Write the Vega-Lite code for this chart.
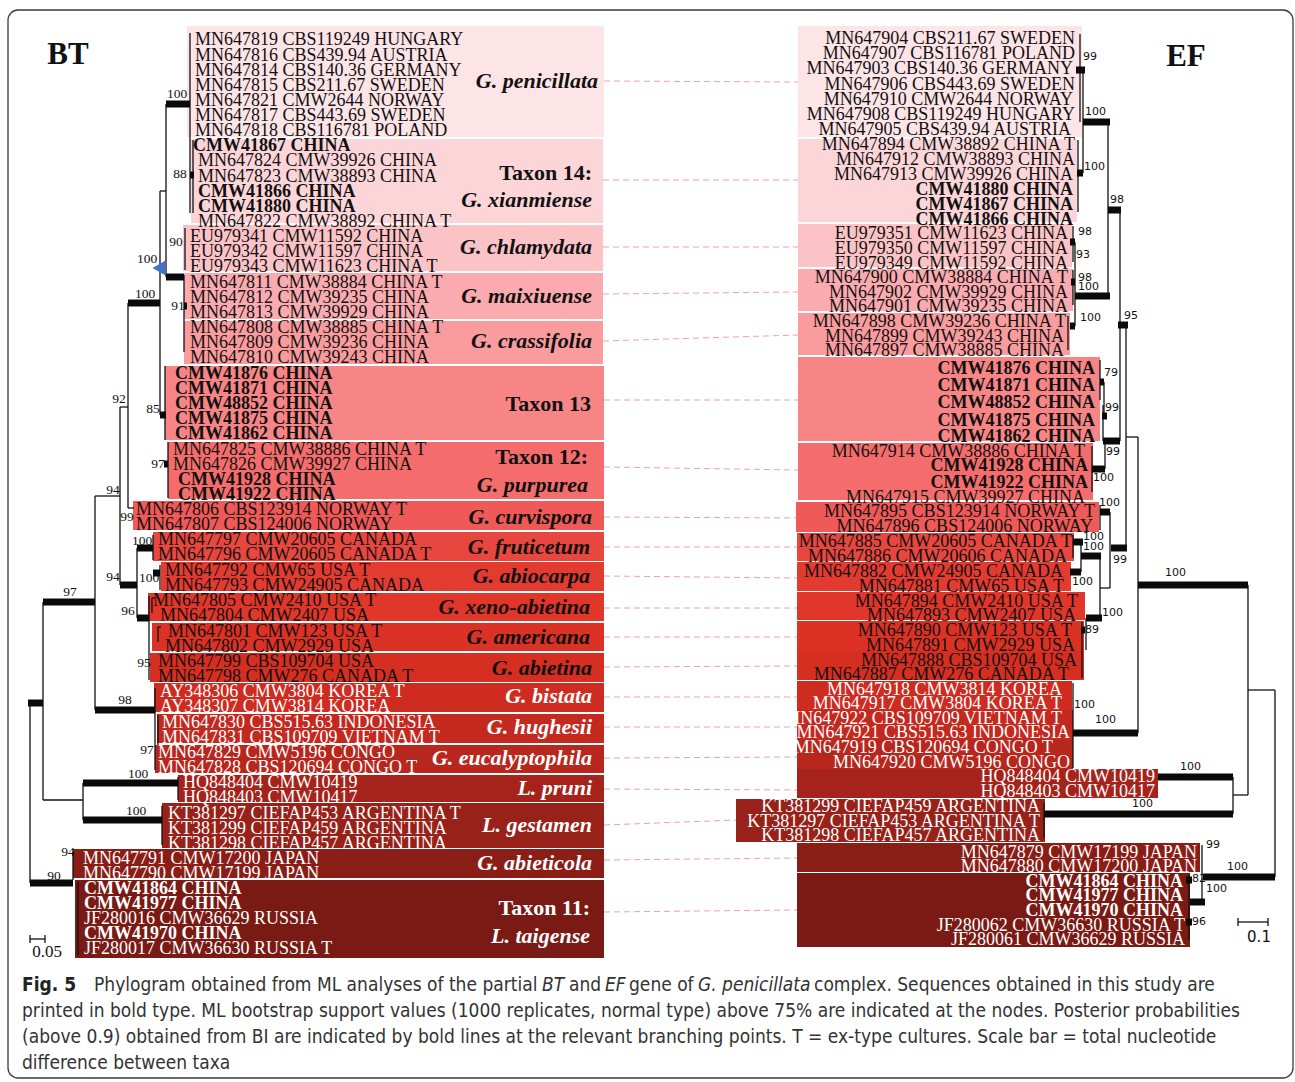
{
 "$schema": "https://vega.github.io/schema/vega-lite/v6.json",
 "width": 1295, "height": 1082,
 "autosize": {"type": "fit", "contains": "padding"},
 "padding": 0,
 "background": "white",
 "config": {"view": {"stroke": null}},
 "datasets": {
  "frame": [{"x": 8, "x2": 1293, "y": 10, "y2": 1078}],
  "boxes": [
   {"side":"L","group":"penicillata","x":187,"x2":604,"y":26,"y2":137},
   {"side":"L","group":"taxon14","x":191,"x2":603,"y":139,"y2":223},
   {"side":"L","group":"chlamydata","x":183,"x2":603,"y":225,"y2":271},
   {"side":"L","group":"maixiuense","x":184,"x2":603,"y":273,"y2":319},
   {"side":"L","group":"crassifolia","x":184,"x2":603,"y":321,"y2":364},
   {"side":"L","group":"taxon13","x":165,"x2":604,"y":366,"y2":440},
   {"side":"L","group":"taxon12","x":168,"x2":604,"y":442,"y2":499},
   {"side":"L","group":"curvispora","x":133,"x2":604,"y":501,"y2":530},
   {"side":"L","group":"fruticetum","x":153,"x2":604,"y":532,"y2":561},
   {"side":"L","group":"abiocarpa","x":161,"x2":604,"y":562,"y2":591},
   {"side":"L","group":"xeno","x":148,"x2":604,"y":593,"y2":621},
   {"side":"L","group":"americana","x":152,"x2":604,"y":623,"y2":651},
   {"side":"L","group":"abietina","x":150,"x2":604,"y":653,"y2":682},
   {"side":"L","group":"bistata","x":154,"x2":604,"y":683,"y2":712},
   {"side":"L","group":"hughesii","x":157,"x2":604,"y":714,"y2":743},
   {"side":"L","group":"eucalyptophila","x":155,"x2":604,"y":745,"y2":773},
   {"side":"L","group":"pruni","x":178,"x2":604,"y":775,"y2":802},
   {"side":"L","group":"gestamen","x":162,"x2":604,"y":803,"y2":848},
   {"side":"L","group":"abieticola","x":73,"x2":604,"y":849,"y2":878},
   {"side":"L","group":"taxon11","x":75,"x2":604,"y":880,"y2":958},
   {"side":"R","group":"penicillata","x":798,"x2":1082,"y":26,"y2":137},
   {"side":"R","group":"taxon14","x":798,"x2":1077,"y":139,"y2":222},
   {"side":"R","group":"chlamydata","x":798,"x2":1072,"y":224,"y2":267},
   {"side":"R","group":"maixiuense","x":798,"x2":1073,"y":269,"y2":311},
   {"side":"R","group":"crassifolia","x":798,"x2":1070,"y":313,"y2":355},
   {"side":"R","group":"taxon13","x":798,"x2":1100,"y":357,"y2":441},
   {"side":"R","group":"taxon12","x":798,"x2":1093,"y":443,"y2":500},
   {"side":"R","group":"curvispora","x":796,"x2":1099,"y":502,"y2":532},
   {"side":"R","group":"fruticetum","x":797,"x2":1074,"y":533,"y2":561},
   {"side":"R","group":"abiocarpa","x":797,"x2":1071,"y":562,"y2":591},
   {"side":"R","group":"xeno","x":797,"x2":1085,"y":592,"y2":620},
   {"side":"R","group":"americana","x":797,"x2":1084,"y":621,"y2":651},
   {"side":"R","group":"abietina","x":797,"x2":1084,"y":651,"y2":680},
   {"side":"R","group":"bistata","x":797,"x2":1072,"y":681,"y2":710},
   {"side":"R","group":"hughesii","x":797,"x2":1073,"y":710,"y2":740},
   {"side":"R","group":"eucalyptophila","x":797,"x2":1073,"y":740,"y2":769},
   {"side":"R","group":"pruni","x":797,"x2":1158,"y":769,"y2":798},
   {"side":"R","group":"gestamen","x":736,"x2":1045,"y":799,"y2":842},
   {"side":"R","group":"abieticola","x":797,"x2":1200,"y":843,"y2":872},
   {"side":"R","group":"taxon11","x":797,"x2":1190,"y":873,"y2":947}
  ],
  "connectors": [
   {"group":"penicillata","x":604,"y":81,"x2":798,"y2":82},
   {"group":"taxon14","x":603,"y":180,"x2":798,"y2":180},
   {"group":"chlamydata","x":603,"y":247,"x2":798,"y2":247},
   {"group":"maixiuense","x":603,"y":294,"x2":798,"y2":292},
   {"group":"crassifolia","x":603,"y":341,"x2":798,"y2":335},
   {"group":"taxon13","x":604,"y":400,"x2":798,"y2":400},
   {"group":"taxon12","x":604,"y":467,"x2":798,"y2":470},
   {"group":"curvispora","x":604,"y":517,"x2":796,"y2":518},
   {"group":"fruticetum","x":604,"y":547,"x2":797,"y2":547},
   {"group":"abiocarpa","x":604,"y":576,"x2":797,"y2":578},
   {"group":"xeno","x":604,"y":608,"x2":797,"y2":608},
   {"group":"americana","x":604,"y":637,"x2":797,"y2":637},
   {"group":"abietina","x":604,"y":667,"x2":797,"y2":666},
   {"group":"bistata","x":604,"y":697,"x2":797,"y2":697},
   {"group":"hughesii","x":604,"y":727,"x2":797,"y2":727},
   {"group":"eucalyptophila","x":604,"y":758,"x2":797,"y2":757},
   {"group":"pruni","x":604,"y":789,"x2":797,"y2":790},
   {"group":"gestamen","x":604,"y":825,"x2":736,"y2":820},
   {"group":"abieticola","x":604,"y":860,"x2":797,"y2":858},
   {"group":"taxon11","x":604,"y":912,"x2":797,"y2":910}
  ],
  "branches": [
   {"tree":"BT","pp":false,"x":30,"y":703,"x2":30,"y2":883},
   {"tree":"BT","pp":false,"x":43,"y":602,"x2":43,"y2":800},
   {"tree":"BT","pp":false,"x":43,"y":800,"x2":83,"y2":800},
   {"tree":"BT","pp":false,"x":83,"y":783,"x2":83,"y2":820},
   {"tree":"BT","pp":false,"x":178,"y":777,"x2":178,"y2":800},
   {"tree":"BT","pp":false,"x":162,"y":806,"x2":162,"y2":845},
   {"tree":"BT","pp":false,"x":95,"y":496,"x2":95,"y2":710},
   {"tree":"BT","pp":false,"x":95,"y":496,"x2":120,"y2":496},
   {"tree":"BT","pp":false,"x":120,"y":407,"x2":120,"y2":585},
   {"tree":"BT","pp":false,"x":120,"y":407,"x2":128,"y2":407},
   {"tree":"BT","pp":false,"x":128,"y":303,"x2":128,"y2":508},
   {"tree":"BT","pp":false,"x":128,"y":508,"x2":134,"y2":508},
   {"tree":"BT","pp":false,"x":160,"y":191,"x2":160,"y2":415},
   {"tree":"BT","pp":false,"x":160,"y":191,"x2":166,"y2":191},
   {"tree":"BT","pp":false,"x":166,"y":104,"x2":166,"y2":277},
   {"tree":"BT","pp":false,"x":190,"y":33,"x2":190,"y2":213},
   {"tree":"BT","pp":false,"x":193,"y":140,"x2":193,"y2":213},
   {"tree":"BT","pp":false,"x":185,"y":228,"x2":185,"y2":270},
   {"tree":"BT","pp":false,"x":184,"y":275,"x2":184,"y2":352},
   {"tree":"BT","pp":false,"x":165,"y":366,"x2":165,"y2":440},
   {"tree":"BT","pp":false,"x":168,"y":442,"x2":168,"y2":498},
   {"tree":"BT","pp":false,"x":137,"y":548,"x2":137,"y2":618},
   {"tree":"BT","pp":false,"x":153,"y":535,"x2":153,"y2":560},
   {"tree":"BT","pp":false,"x":160,"y":565,"x2":160,"y2":590},
   {"tree":"BT","pp":false,"x":149,"y":596,"x2":149,"y2":680},
   {"tree":"BT","pp":false,"x":152,"y":598,"x2":152,"y2":613},
   {"tree":"BT","pp":false,"x":152,"y":598,"x2":155,"y2":598},
   {"tree":"BT","pp":false,"x":158,"y":627,"x2":158,"y2":642},
   {"tree":"BT","pp":false,"x":158,"y":627,"x2":161,"y2":627},
   {"tree":"BT","pp":false,"x":155,"y":688,"x2":155,"y2":770},
   {"tree":"BT","pp":false,"x":158,"y":715,"x2":158,"y2":745},
   {"tree":"BT","pp":false,"x":73,"y":852,"x2":73,"y2":880},
   {"tree":"BT","pp":false,"x":78,"y":882,"x2":78,"y2":955},
   {"tree":"BT","pp":false,"x":30,"y":939,"x2":45,"y2":939},
   {"tree":"BT","pp":false,"x":30,"y":935,"x2":30,"y2":943},
   {"tree":"BT","pp":false,"x":45,"y":935,"x2":45,"y2":943},
   {"tree":"BT","pp":true,"x":166,"y":104,"x2":190,"y2":104},
   {"tree":"BT","pp":true,"x":190,"y":175,"x2":194,"y2":175},
   {"tree":"BT","pp":true,"x":166,"y":277,"x2":184,"y2":277},
   {"tree":"BT","pp":true,"x":184,"y":306,"x2":187,"y2":306},
   {"tree":"BT","pp":true,"x":128,"y":303,"x2":160,"y2":303},
   {"tree":"BT","pp":true,"x":160,"y":415,"x2":166,"y2":415},
   {"tree":"BT","pp":true,"x":164,"y":464,"x2":168,"y2":464},
   {"tree":"BT","pp":true,"x":120,"y":585,"x2":137,"y2":585},
   {"tree":"BT","pp":true,"x":137,"y":548,"x2":153,"y2":548},
   {"tree":"BT","pp":true,"x":153,"y":573,"x2":160,"y2":573},
   {"tree":"BT","pp":true,"x":137,"y":618,"x2":149,"y2":618},
   {"tree":"BT","pp":true,"x":43,"y":602,"x2":95,"y2":602},
   {"tree":"BT","pp":true,"x":95,"y":710,"x2":155,"y2":710},
   {"tree":"BT","pp":true,"x":28,"y":703,"x2":43,"y2":703},
   {"tree":"BT","pp":true,"x":83,"y":783,"x2":178,"y2":783},
   {"tree":"BT","pp":true,"x":83,"y":820,"x2":162,"y2":820},
   {"tree":"BT","pp":true,"x":30,"y":883,"x2":73,"y2":883},
   {"tree":"EF","pp":false,"x":1080,"y":34,"x2":1080,"y2":122},
   {"tree":"EF","pp":false,"x":1083,"y":70,"x2":1083,"y2":173},
   {"tree":"EF","pp":false,"x":1078,"y":140,"x2":1078,"y2":212},
   {"tree":"EF","pp":false,"x":1108,"y":122,"x2":1108,"y2":296},
   {"tree":"EF","pp":false,"x":1073,"y":226,"x2":1073,"y2":262},
   {"tree":"EF","pp":false,"x":1075,"y":242,"x2":1075,"y2":296},
   {"tree":"EF","pp":false,"x":1073,"y":270,"x2":1073,"y2":305},
   {"tree":"EF","pp":false,"x":1068,"y":316,"x2":1068,"y2":350},
   {"tree":"EF","pp":false,"x":1075,"y":296,"x2":1075,"y2":326},
   {"tree":"EF","pp":false,"x":1120,"y":210,"x2":1120,"y2":441},
   {"tree":"EF","pp":false,"x":1126,"y":325,"x2":1126,"y2":548},
   {"tree":"EF","pp":false,"x":1126,"y":437,"x2":1138,"y2":437},
   {"tree":"EF","pp":false,"x":1138,"y":437,"x2":1138,"y2":733},
   {"tree":"EF","pp":false,"x":1248,"y":585,"x2":1248,"y2":795},
   {"tree":"EF","pp":false,"x":1248,"y":690,"x2":1275,"y2":690},
   {"tree":"EF","pp":false,"x":1233,"y":795,"x2":1248,"y2":795},
   {"tree":"EF","pp":false,"x":1233,"y":777,"x2":1233,"y2":814},
   {"tree":"EF","pp":false,"x":1275,"y":690,"x2":1275,"y2":877},
   {"tree":"EF","pp":false,"x":1100,"y":360,"x2":1100,"y2":400},
   {"tree":"EF","pp":false,"x":1104,"y":382,"x2":1104,"y2":416},
   {"tree":"EF","pp":false,"x":1103,"y":405,"x2":1103,"y2":441},
   {"tree":"EF","pp":false,"x":1092,"y":446,"x2":1092,"y2":492},
   {"tree":"EF","pp":false,"x":1105,"y":441,"x2":1105,"y2":469},
   {"tree":"EF","pp":false,"x":1100,"y":505,"x2":1100,"y2":530},
   {"tree":"EF","pp":false,"x":1110,"y":512,"x2":1110,"y2":588},
   {"tree":"EF","pp":false,"x":1100,"y":588,"x2":1110,"y2":588},
   {"tree":"EF","pp":false,"x":1073,"y":535,"x2":1073,"y2":558},
   {"tree":"EF","pp":false,"x":1081,"y":542,"x2":1081,"y2":572},
   {"tree":"EF","pp":false,"x":1100,"y":556,"x2":1100,"y2":620},
   {"tree":"EF","pp":false,"x":1086,"y":618,"x2":1086,"y2":650},
   {"tree":"EF","pp":false,"x":1082,"y":622,"x2":1082,"y2":678},
   {"tree":"EF","pp":false,"x":1073,"y":683,"x2":1073,"y2":768},
   {"tree":"EF","pp":false,"x":1044,"y":803,"x2":1044,"y2":838},
   {"tree":"EF","pp":false,"x":1202,"y":845,"x2":1202,"y2":902},
   {"tree":"EF","pp":false,"x":1189,"y":875,"x2":1189,"y2":940},
   {"tree":"EF","pp":false,"x":1238,"y":922,"x2":1268,"y2":922},
   {"tree":"EF","pp":false,"x":1238,"y":918,"x2":1238,"y2":926},
   {"tree":"EF","pp":false,"x":1268,"y":918,"x2":1268,"y2":926},
   {"tree":"EF","pp":true,"x":1076,"y":70,"x2":1085,"y2":70},
   {"tree":"EF","pp":true,"x":1083,"y":122,"x2":1110,"y2":122},
   {"tree":"EF","pp":true,"x":1077,"y":173,"x2":1083,"y2":173},
   {"tree":"EF","pp":true,"x":1108,"y":210,"x2":1121,"y2":210},
   {"tree":"EF","pp":true,"x":1070,"y":242,"x2":1075,"y2":242},
   {"tree":"EF","pp":true,"x":1071,"y":282,"x2":1075,"y2":282},
   {"tree":"EF","pp":true,"x":1075,"y":296,"x2":1110,"y2":296},
   {"tree":"EF","pp":true,"x":1070,"y":326,"x2":1075,"y2":326},
   {"tree":"EF","pp":true,"x":1118,"y":325,"x2":1128,"y2":325},
   {"tree":"EF","pp":true,"x":1100,"y":382,"x2":1104,"y2":382},
   {"tree":"EF","pp":true,"x":1102,"y":416,"x2":1107,"y2":416},
   {"tree":"EF","pp":true,"x":1103,"y":441,"x2":1120,"y2":441},
   {"tree":"EF","pp":true,"x":1092,"y":469,"x2":1105,"y2":469},
   {"tree":"EF","pp":true,"x":1100,"y":512,"x2":1110,"y2":512},
   {"tree":"EF","pp":true,"x":1111,"y":548,"x2":1127,"y2":548},
   {"tree":"EF","pp":true,"x":1073,"y":542,"x2":1083,"y2":542},
   {"tree":"EF","pp":true,"x":1081,"y":556,"x2":1101,"y2":556},
   {"tree":"EF","pp":true,"x":1070,"y":572,"x2":1081,"y2":572},
   {"tree":"EF","pp":true,"x":1086,"y":618,"x2":1102,"y2":618},
   {"tree":"EF","pp":true,"x":1081,"y":630,"x2":1085,"y2":630},
   {"tree":"EF","pp":true,"x":1138,"y":585,"x2":1248,"y2":585},
   {"tree":"EF","pp":true,"x":1073,"y":733,"x2":1138,"y2":733},
   {"tree":"EF","pp":true,"x":1158,"y":777,"x2":1233,"y2":777},
   {"tree":"EF","pp":true,"x":1044,"y":814,"x2":1233,"y2":814},
   {"tree":"EF","pp":true,"x":1203,"y":877,"x2":1275,"y2":877},
   {"tree":"EF","pp":true,"x":1190,"y":902,"x2":1205,"y2":902},
   {"tree":"EF","pp":true,"x":1186,"y":880,"x2":1192,"y2":880},
   {"tree":"EF","pp":true,"x":1186,"y":922,"x2":1192,"y2":922}
  ],
  "nodes": [{"x": 159, "y": 268}],
  "leaves": [
   {"side":"L","group":"penicillata","thisStudy":false,"x":195,"y":38,"label":"MN647819 CBS119249 HUNGARY"},
   {"side":"L","group":"penicillata","thisStudy":false,"x":195,"y":54,"label":"MN647816 CBS439.94 AUSTRIA"},
   {"side":"L","group":"penicillata","thisStudy":false,"x":195,"y":69,"label":"MN647814 CBS140.36 GERMANY"},
   {"side":"L","group":"penicillata","thisStudy":false,"x":195,"y":84,"label":"MN647815 CBS211.67 SWEDEN"},
   {"side":"L","group":"penicillata","thisStudy":false,"x":195,"y":99,"label":"MN647821 CMW2644 NORWAY"},
   {"side":"L","group":"penicillata","thisStudy":false,"x":195,"y":114,"label":"MN647817 CBS443.69 SWEDEN"},
   {"side":"L","group":"penicillata","thisStudy":false,"x":195,"y":129,"label":"MN647818 CBS116781 POLAND"},
   {"side":"L","group":"taxon14","thisStudy":true,"x":193,"y":144,"label":"CMW41867 CHINA"},
   {"side":"L","group":"taxon14","thisStudy":false,"x":198,"y":159,"label":"MN647824 CMW39926 CHINA"},
   {"side":"L","group":"taxon14","thisStudy":false,"x":198,"y":175,"label":"MN647823 CMW38893 CHINA"},
   {"side":"L","group":"taxon14","thisStudy":true,"x":198,"y":190,"label":"CMW41866 CHINA"},
   {"side":"L","group":"taxon14","thisStudy":true,"x":198,"y":205,"label":"CMW41880 CHINA"},
   {"side":"L","group":"taxon14","thisStudy":false,"x":198,"y":220,"label":"MN647822 CMW38892 CHINA T"},
   {"side":"L","group":"chlamydata","thisStudy":false,"x":190,"y":235,"label":"EU979341 CMW11592 CHINA"},
   {"side":"L","group":"chlamydata","thisStudy":false,"x":190,"y":250,"label":"EU979342 CMW11597 CHINA"},
   {"side":"L","group":"chlamydata","thisStudy":false,"x":190,"y":265,"label":"EU979343 CMW11623 CHINA T"},
   {"side":"L","group":"maixiuense","thisStudy":false,"x":190,"y":281,"label":"MN647811 CMW38884 CHINA T"},
   {"side":"L","group":"maixiuense","thisStudy":false,"x":190,"y":296,"label":"MN647812 CMW39235 CHINA"},
   {"side":"L","group":"maixiuense","thisStudy":false,"x":190,"y":311,"label":"MN647813 CMW39929 CHINA"},
   {"side":"L","group":"crassifolia","thisStudy":false,"x":190,"y":326,"label":"MN647808 CMW38885 CHINA T"},
   {"side":"L","group":"crassifolia","thisStudy":false,"x":190,"y":341,"label":"MN647809 CMW39236 CHINA"},
   {"side":"L","group":"crassifolia","thisStudy":false,"x":190,"y":356,"label":"MN647810 CMW39243 CHINA"},
   {"side":"L","group":"taxon13","thisStudy":true,"x":175,"y":372,"label":"CMW41876 CHINA"},
   {"side":"L","group":"taxon13","thisStudy":true,"x":175,"y":387,"label":"CMW41871 CHINA"},
   {"side":"L","group":"taxon13","thisStudy":true,"x":175,"y":402,"label":"CMW48852 CHINA"},
   {"side":"L","group":"taxon13","thisStudy":true,"x":175,"y":417,"label":"CMW41875 CHINA"},
   {"side":"L","group":"taxon13","thisStudy":true,"x":175,"y":432,"label":"CMW41862 CHINA"},
   {"side":"L","group":"taxon12","thisStudy":false,"x":173,"y":448,"label":"MN647825 CMW38886 CHINA T"},
   {"side":"L","group":"taxon12","thisStudy":false,"x":173,"y":463,"label":"MN647826 CMW39927 CHINA"},
   {"side":"L","group":"taxon12","thisStudy":true,"x":178,"y":478,"label":"CMW41928 CHINA"},
   {"side":"L","group":"taxon12","thisStudy":true,"x":178,"y":493,"label":"CMW41922 CHINA"},
   {"side":"L","group":"curvispora","thisStudy":false,"x":136,"y":508,"label":"MN647806 CBS123914 NORWAY T"},
   {"side":"L","group":"curvispora","thisStudy":false,"x":136,"y":523,"label":"MN647807 CBS124006 NORWAY"},
   {"side":"L","group":"fruticetum","thisStudy":false,"x":158,"y":538,"label":"MN647797 CMW20605 CANADA"},
   {"side":"L","group":"fruticetum","thisStudy":false,"x":158,"y":553,"label":"MN647796 CMW20605 CANADA T"},
   {"side":"L","group":"abiocarpa","thisStudy":false,"x":165,"y":569,"label":"MN647792 CMW65 USA T"},
   {"side":"L","group":"abiocarpa","thisStudy":false,"x":165,"y":584,"label":"MN647793 CMW24905 CANADA"},
   {"side":"L","group":"xeno","thisStudy":false,"x":153,"y":599,"label":"MN647805 CMW2410 USA T"},
   {"side":"L","group":"xeno","thisStudy":false,"x":160,"y":614,"label":"MN647804 CMW2407 USA"},
   {"side":"L","group":"americana","thisStudy":false,"x":168,"y":630,"label":"MN647801 CMW123 USA T"},
   {"side":"L","group":"americana","thisStudy":false,"x":165,"y":645,"label":"MN647802 CMW2929 USA"},
   {"side":"L","group":"abietina","thisStudy":false,"x":158,"y":660,"label":"MN647799 CBS109704 USA"},
   {"side":"L","group":"abietina","thisStudy":false,"x":158,"y":675,"label":"MN647798 CMW276 CANADA T"},
   {"side":"L","group":"bistata","thisStudy":false,"x":160,"y":690,"label":"AY348306 CMW3804 KOREA T"},
   {"side":"L","group":"bistata","thisStudy":false,"x":160,"y":705,"label":"AY348307 CMW3814 KOREA"},
   {"side":"L","group":"hughesii","thisStudy":false,"x":162,"y":721,"label":"MN647830 CBS515.63 INDONESIA"},
   {"side":"L","group":"hughesii","thisStudy":false,"x":162,"y":736,"label":"MN647831 CBS109709 VIETNAM T"},
   {"side":"L","group":"eucalyptophila","thisStudy":false,"x":158,"y":751,"label":"MN647829 CMW5196 CONGO"},
   {"side":"L","group":"eucalyptophila","thisStudy":false,"x":158,"y":766,"label":"MN647828 CBS120694 CONGO T"},
   {"side":"L","group":"pruni","thisStudy":false,"x":183,"y":781,"label":"HQ848404 CMW10419"},
   {"side":"L","group":"pruni","thisStudy":false,"x":183,"y":796,"label":"HQ848403 CMW10417"},
   {"side":"L","group":"gestamen","thisStudy":false,"x":168,"y":812,"label":"KT381297 CIEFAP453 ARGENTINA T"},
   {"side":"L","group":"gestamen","thisStudy":false,"x":168,"y":827,"label":"KT381299 CIEFAP459 ARGENTINA"},
   {"side":"L","group":"gestamen","thisStudy":false,"x":168,"y":842,"label":"KT381298 CIEFAP457 ARGENTINA"},
   {"side":"L","group":"abieticola","thisStudy":false,"x":83,"y":857,"label":"MN647791 CMW17200 JAPAN"},
   {"side":"L","group":"abieticola","thisStudy":false,"x":83,"y":872,"label":"MN647790 CMW17199 JAPAN"},
   {"side":"L","group":"taxon11","thisStudy":true,"x":84,"y":887,"label":"CMW41864 CHINA"},
   {"side":"L","group":"taxon11","thisStudy":true,"x":84,"y":902,"label":"CMW41977 CHINA"},
   {"side":"L","group":"taxon11","thisStudy":false,"x":84,"y":917,"label":"JF280016 CMW36629 RUSSIA"},
   {"side":"L","group":"taxon11","thisStudy":true,"x":84,"y":932,"label":"CMW41970 CHINA"},
   {"side":"L","group":"taxon11","thisStudy":false,"x":84,"y":947,"label":"JF280017 CMW36630 RUSSIA T"},
   {"side":"R","group":"penicillata","thisStudy":false,"x":1075,"y":37,"label":"MN647904 CBS211.67 SWEDEN"},
   {"side":"R","group":"penicillata","thisStudy":false,"x":1075,"y":52,"label":"MN647907 CBS116781 POLAND"},
   {"side":"R","group":"penicillata","thisStudy":false,"x":1073,"y":67,"label":"MN647903 CBS140.36 GERMANY"},
   {"side":"R","group":"penicillata","thisStudy":false,"x":1075,"y":83,"label":"MN647906 CBS443.69 SWEDEN"},
   {"side":"R","group":"penicillata","thisStudy":false,"x":1073,"y":98,"label":"MN647910 CMW2644 NORWAY"},
   {"side":"R","group":"penicillata","thisStudy":false,"x":1075,"y":113,"label":"MN647908 CBS119249 HUNGARY"},
   {"side":"R","group":"penicillata","thisStudy":false,"x":1071,"y":128,"label":"MN647905 CBS439.94 AUSTRIA"},
   {"side":"R","group":"taxon14","thisStudy":false,"x":1075,"y":143,"label":"MN647894 CMW38892 CHINA T"},
   {"side":"R","group":"taxon14","thisStudy":false,"x":1075,"y":158,"label":"MN647912 CMW38893 CHINA"},
   {"side":"R","group":"taxon14","thisStudy":false,"x":1073,"y":173,"label":"MN647913 CMW39926 CHINA"},
   {"side":"R","group":"taxon14","thisStudy":true,"x":1073,"y":188,"label":"CMW41880 CHINA"},
   {"side":"R","group":"taxon14","thisStudy":true,"x":1073,"y":203,"label":"CMW41867 CHINA"},
   {"side":"R","group":"taxon14","thisStudy":true,"x":1073,"y":218,"label":"CMW41866 CHINA"},
   {"side":"R","group":"chlamydata","thisStudy":false,"x":1068,"y":232,"label":"EU979351 CMW11623 CHINA"},
   {"side":"R","group":"chlamydata","thisStudy":false,"x":1068,"y":247,"label":"EU979350 CMW11597 CHINA"},
   {"side":"R","group":"chlamydata","thisStudy":false,"x":1068,"y":262,"label":"EU979349 CMW11592 CHINA"},
   {"side":"R","group":"maixiuense","thisStudy":false,"x":1068,"y":276,"label":"MN647900 CMW38884 CHINA T"},
   {"side":"R","group":"maixiuense","thisStudy":false,"x":1068,"y":291,"label":"MN647902 CMW39929 CHINA"},
   {"side":"R","group":"maixiuense","thisStudy":false,"x":1068,"y":305,"label":"MN647901 CMW39235 CHINA"},
   {"side":"R","group":"crassifolia","thisStudy":false,"x":1066,"y":320,"label":"MN647898 CMW39236 CHINA T"},
   {"side":"R","group":"crassifolia","thisStudy":false,"x":1064,"y":335,"label":"MN647899 CMW39243 CHINA"},
   {"side":"R","group":"crassifolia","thisStudy":false,"x":1064,"y":349,"label":"MN647897 CMW38885 CHINA"},
   {"side":"R","group":"taxon13","thisStudy":true,"x":1095,"y":367,"label":"CMW41876 CHINA"},
   {"side":"R","group":"taxon13","thisStudy":true,"x":1095,"y":384,"label":"CMW41871 CHINA"},
   {"side":"R","group":"taxon13","thisStudy":true,"x":1095,"y":401,"label":"CMW48852 CHINA"},
   {"side":"R","group":"taxon13","thisStudy":true,"x":1095,"y":419,"label":"CMW41875 CHINA"},
   {"side":"R","group":"taxon13","thisStudy":true,"x":1095,"y":435,"label":"CMW41862 CHINA"},
   {"side":"R","group":"taxon12","thisStudy":false,"x":1085,"y":450,"label":"MN647914 CMW38886 CHINA T"},
   {"side":"R","group":"taxon12","thisStudy":true,"x":1088,"y":464,"label":"CMW41928 CHINA"},
   {"side":"R","group":"taxon12","thisStudy":true,"x":1088,"y":481,"label":"CMW41922 CHINA"},
   {"side":"R","group":"taxon12","thisStudy":false,"x":1085,"y":496,"label":"MN647915 CMW39927 CHINA"},
   {"side":"R","group":"curvispora","thisStudy":false,"x":1095,"y":510,"label":"MN647895 CBS123914 NORWAY T"},
   {"side":"R","group":"curvispora","thisStudy":false,"x":1093,"y":525,"label":"MN647896 CBS124006 NORWAY"},
   {"side":"R","group":"fruticetum","thisStudy":false,"x":1072,"y":540,"label":"MN647885 CMW20605 CANADA T"},
   {"side":"R","group":"fruticetum","thisStudy":false,"x":1067,"y":555,"label":"MN647886 CMW20606 CANADA"},
   {"side":"R","group":"abiocarpa","thisStudy":false,"x":1063,"y":570,"label":"MN647882 CMW24905 CANADA"},
   {"side":"R","group":"abiocarpa","thisStudy":false,"x":1064,"y":585,"label":"MN647881 CMW65 USA T"},
   {"side":"R","group":"xeno","thisStudy":false,"x":1078,"y":600,"label":"MN647894 CMW2410 USA T"},
   {"side":"R","group":"xeno","thisStudy":false,"x":1076,"y":614,"label":"MN647893 CMW2407 USA"},
   {"side":"R","group":"americana","thisStudy":false,"x":1072,"y":629,"label":"MN647890 CMW123 USA T"},
   {"side":"R","group":"americana","thisStudy":false,"x":1075,"y":644,"label":"MN647891 CMW2929 USA"},
   {"side":"R","group":"abietina","thisStudy":false,"x":1077,"y":659,"label":"MN647888 CBS109704 USA"},
   {"side":"R","group":"abietina","thisStudy":false,"x":1069,"y":673,"label":"MN647887 CMW276 CANADA T"},
   {"side":"R","group":"bistata","thisStudy":false,"x":1062,"y":688,"label":"MN647918 CMW3814 KOREA"},
   {"side":"R","group":"bistata","thisStudy":false,"x":1062,"y":702,"label":"MN647917 CMW3804 KOREA T"},
   {"side":"R","group":"hughesii","thisStudy":false,"x":1062,"y":717,"label":"MN647922 CBS109709 VIETNAM T"},
   {"side":"R","group":"hughesii","thisStudy":false,"x":1070,"y":731,"label":"MN647921 CBS515.63 INDONESIA"},
   {"side":"R","group":"eucalyptophila","thisStudy":false,"x":1053,"y":746,"label":"MN647919 CBS120694 CONGO T"},
   {"side":"R","group":"eucalyptophila","thisStudy":false,"x":1070,"y":761,"label":"MN647920 CMW5196 CONGO"},
   {"side":"R","group":"pruni","thisStudy":false,"x":1155,"y":775,"label":"HQ848404 CMW10419"},
   {"side":"R","group":"pruni","thisStudy":false,"x":1155,"y":790,"label":"HQ848403 CMW10417"},
   {"side":"R","group":"gestamen","thisStudy":false,"x":1040,"y":805,"label":"KT381299 CIEFAP459 ARGENTINA"},
   {"side":"R","group":"gestamen","thisStudy":false,"x":1040,"y":820,"label":"KT381297 CIEFAP453 ARGENTINA T"},
   {"side":"R","group":"gestamen","thisStudy":false,"x":1040,"y":834,"label":"KT381298 CIEFAP457 ARGENTINA"},
   {"side":"R","group":"abieticola","thisStudy":false,"x":1197,"y":851,"label":"MN647879 CMW17199 JAPAN"},
   {"side":"R","group":"abieticola","thisStudy":false,"x":1197,"y":865,"label":"MN647880 CMW17200 JAPAN"},
   {"side":"R","group":"taxon11","thisStudy":true,"x":1183,"y":880,"label":"CMW41864 CHINA"},
   {"side":"R","group":"taxon11","thisStudy":true,"x":1183,"y":894,"label":"CMW41977 CHINA"},
   {"side":"R","group":"taxon11","thisStudy":true,"x":1183,"y":909,"label":"CMW41970 CHINA"},
   {"side":"R","group":"taxon11","thisStudy":false,"x":1185,"y":924,"label":"JF280062 CMW36630 RUSSIA T"},
   {"side":"R","group":"taxon11","thisStudy":false,"x":1185,"y":938,"label":"JF280061 CMW36629 RUSSIA"}
  ],
  "groupLabels": [
   {"group":"penicillata","x":598,"y":81,"label":"G. penicillata"},
   {"group":"taxon14","x":592,"y":173,"label":"Taxon 14:"},
   {"group":"taxon14","x":592,"y":200,"label":"G. xianmiense"},
   {"group":"chlamydata","x":592,"y":247,"label":"G. chlamydata"},
   {"group":"maixiuense","x":592,"y":296,"label":"G. maixiuense"},
   {"group":"crassifolia","x":592,"y":341,"label":"G. crassifolia"},
   {"group":"taxon13","x":591,"y":404,"label":"Taxon 13"},
   {"group":"taxon12","x":588,"y":457,"label":"Taxon 12:"},
   {"group":"taxon12","x":588,"y":485,"label":"G. purpurea"},
   {"group":"curvispora","x":592,"y":517,"label":"G. curvispora"},
   {"group":"fruticetum","x":590,"y":547,"label":"G. fruticetum"},
   {"group":"abiocarpa","x":590,"y":576,"label":"G. abiocarpa"},
   {"group":"xeno","x":590,"y":607,"label":"G. xeno-abietina"},
   {"group":"americana","x":590,"y":637,"label":"G. americana"},
   {"group":"abietina","x":592,"y":668,"label":"G. abietina"},
   {"group":"bistata","x":592,"y":696,"label":"G. bistata"},
   {"group":"hughesii","x":592,"y":727,"label":"G. hughesii"},
   {"group":"eucalyptophila","x":592,"y":758,"label":"G. eucalyptophila"},
   {"group":"pruni","x":592,"y":788,"label":"L. pruni"},
   {"group":"gestamen","x":592,"y":825,"label":"L. gestamen"},
   {"group":"abieticola","x":592,"y":863,"label":"G. abieticola"},
   {"group":"taxon11","x":590,"y":908,"label":"Taxon 11:"},
   {"group":"taxon11","x":590,"y":936,"label":"L. taigense"}
  ],
  "support": [
   {"tree":"BT","x":177,"y":94,"label":"100"},
   {"tree":"BT","x":180,"y":174,"label":"88"},
   {"tree":"BT","x":176,"y":242,"label":"90"},
   {"tree":"BT","x":147,"y":259,"label":"100"},
   {"tree":"BT","x":145,"y":294,"label":"100"},
   {"tree":"BT","x":178,"y":306,"label":"91"},
   {"tree":"BT","x":119,"y":399,"label":"92"},
   {"tree":"BT","x":153,"y":409,"label":"85"},
   {"tree":"BT","x":158,"y":464,"label":"97"},
   {"tree":"BT","x":113,"y":490,"label":"94"},
   {"tree":"BT","x":127,"y":517,"label":"99"},
   {"tree":"BT","x":142,"y":541,"label":"100"},
   {"tree":"BT","x":113,"y":577,"label":"94"},
   {"tree":"BT","x":149,"y":578,"label":"100"},
   {"tree":"BT","x":70,"y":592,"label":"97"},
   {"tree":"BT","x":128,"y":611,"label":"96"},
   {"tree":"BT","x":144,"y":663,"label":"95"},
   {"tree":"BT","x":125,"y":700,"label":"98"},
   {"tree":"BT","x":147,"y":750,"label":"97"},
   {"tree":"BT","x":138,"y":774,"label":"100"},
   {"tree":"BT","x":136,"y":811,"label":"100"},
   {"tree":"BT","x":68,"y":852,"label":"94"},
   {"tree":"BT","x":54,"y":876,"label":"90"},
   {"tree":"EF","x":1083,"y":57,"label":"99"},
   {"tree":"EF","x":1085,"y":112,"label":"100"},
   {"tree":"EF","x":1084,"y":167,"label":"100"},
   {"tree":"EF","x":1110,"y":200,"label":"98"},
   {"tree":"EF","x":1078,"y":232,"label":"98"},
   {"tree":"EF","x":1076,"y":255,"label":"93"},
   {"tree":"EF","x":1078,"y":278,"label":"98"},
   {"tree":"EF","x":1078,"y":287,"label":"100"},
   {"tree":"EF","x":1080,"y":318,"label":"100"},
   {"tree":"EF","x":1124,"y":316,"label":"95"},
   {"tree":"EF","x":1104,"y":373,"label":"79"},
   {"tree":"EF","x":1105,"y":408,"label":"99"},
   {"tree":"EF","x":1106,"y":452,"label":"99"},
   {"tree":"EF","x":1093,"y":478,"label":"100"},
   {"tree":"EF","x":1099,"y":503,"label":"100"},
   {"tree":"EF","x":1083,"y":537,"label":"100"},
   {"tree":"EF","x":1083,"y":547,"label":"100"},
   {"tree":"EF","x":1113,"y":560,"label":"99"},
   {"tree":"EF","x":1072,"y":582,"label":"100"},
   {"tree":"EF","x":1165,"y":573,"label":"100"},
   {"tree":"EF","x":1102,"y":613,"label":"100"},
   {"tree":"EF","x":1085,"y":630,"label":"89"},
   {"tree":"EF","x":1074,"y":705,"label":"100"},
   {"tree":"EF","x":1095,"y":720,"label":"100"},
   {"tree":"EF","x":1180,"y":767,"label":"100"},
   {"tree":"EF","x":1132,"y":804,"label":"100"},
   {"tree":"EF","x":1206,"y":845,"label":"99"},
   {"tree":"EF","x":1192,"y":879,"label":"82"},
   {"tree":"EF","x":1227,"y":867,"label":"100"},
   {"tree":"EF","x":1206,"y":889,"label":"100"},
   {"tree":"EF","x":1192,"y":922,"label":"96"}
  ],
  "titles": [
   {"x": 68, "y": 55, "label": "BT"},
   {"x": 1186, "y": 57, "label": "EF"}
  ],
  "scaleLabels": [
   {"tree": "BT", "x": 47, "y": 952, "label": "0.05"},
   {"tree": "EF", "x": 1259, "y": 937, "label": "0.1"}
  ],
  "captionBold": [{"x": 22, "y": 985, "label": "Fig. 5"}],
  "caption": [
   {"kind": "text", "x": 94, "y": 985, "label": "Phylogram obtained from ML analyses of the partial"},
   {"kind": "name", "x": 542, "y": 985, "label": "BT"},
   {"kind": "text", "x": 569, "y": 985, "label": "and"},
   {"kind": "name", "x": 605, "y": 985, "label": "EF"},
   {"kind": "text", "x": 629, "y": 985, "label": "gene of"},
   {"kind": "name", "x": 698, "y": 985, "label": "G. penicillata"},
   {"kind": "text", "x": 814, "y": 985, "label": "complex. Sequences obtained in this study are"},
   {"kind": "text", "x": 22, "y": 1011, "label": "printed in bold type. ML bootstrap support values (1000 replicates, normal type) above 75% are indicated at the nodes. Posterior probabilities"},
   {"kind": "text", "x": 22, "y": 1037, "label": "(above 0.9) obtained from BI are indicated by bold lines at the relevant branching points. T = ex-type cultures. Scale bar = total nucleotide"},
   {"kind": "text", "x": 22, "y": 1063, "label": "difference between taxa"}
  ]
 },
 "encoding": {
  "x": {"field": "x", "type": "quantitative", "scale": {"domain": [0, 1295], "nice": false, "zero": false}, "axis": null},
  "y": {"field": "y", "type": "quantitative", "scale": {"domain": [0, 1082], "nice": false, "zero": false, "reverse": true}, "axis": null}
 },
 "layer": [
  {"data": {"name": "frame"}, "mark": {"type": "rect", "fill": "white", "stroke": "#3a3a3a", "strokeWidth": 1.3, "cornerRadius": 10},
   "encoding": {"x2": {"field": "x2"}, "y2": {"field": "y2"}}},
  {"data": {"name": "boxes"}, "mark": {"type": "rect"},
   "encoding": {"x2": {"field": "x2"}, "y2": {"field": "y2"},
    "color": {"field": "group", "type": "nominal", "legend": null,
     "scale": {"domain": ["penicillata","taxon14","chlamydata","maixiuense","crassifolia","taxon13","taxon12","curvispora","fruticetum","abiocarpa","xeno","americana","abietina","bistata","hughesii","eucalyptophila","pruni","gestamen","abieticola","taxon11"],
      "range": ["#fde4e7","#fcd5d9","#fcc3c6","#fbabaf","#fa9b9e","#f88585","#f46d6c","#ef5957","#e8473f","#e43b31","#e1362a","#dc3225","#d62f22","#ce2c21","#c3291f","#b8271d","#a6231b","#98211a","#8a1e17","#7a1a14"]}}}},
  {"data": {"name": "connectors"}, "mark": {"type": "rule", "color": "#f2a0a3", "strokeWidth": 1, "strokeDash": [6, 4]},
   "encoding": {"x2": {"field": "x2"}, "y2": {"field": "y2"}}},
  {"data": {"name": "branches"}, "transform": [{"filter": "!datum.pp"}], "mark": {"type": "rule", "color": "#111111", "strokeWidth": 1.3},
   "encoding": {"x2": {"field": "x2"}, "y2": {"field": "y2"}}},
  {"data": {"name": "branches"}, "transform": [{"filter": "datum.pp"}], "mark": {"type": "rule", "color": "#0a0a0a", "strokeWidth": 7, "strokeCap": "butt"},
   "encoding": {"x2": {"field": "x2"}, "y2": {"field": "y2"}}},
  {"data": {"name": "nodes"}, "mark": {"type": "point", "shape": "triangle-left", "filled": true, "color": "#4472c4", "size": 230, "opacity": 1}},
  {"data": {"name": "leaves"}, "transform": [{"filter": "datum.side === 'L' && !datum.thisStudy"}],
   "mark": {"type": "text", "align": "left", "baseline": "middle", "dy": 1.5, "font": "Liberation Serif", "fontSize": 18},
   "encoding": {"text": {"field": "label"}, "color": {"condition": {"test": "indexof(['bistata','hughesii','eucalyptophila','pruni','gestamen','abieticola','taxon11'], datum.group) >= 0", "value": "white"}, "value": "#111111"}}},
  {"data": {"name": "leaves"}, "transform": [{"filter": "datum.side === 'L' && datum.thisStudy"}],
   "mark": {"type": "text", "align": "left", "baseline": "middle", "dy": 1.5, "font": "Liberation Serif", "fontSize": 18, "fontWeight": "bold"},
   "encoding": {"text": {"field": "label"}, "color": {"condition": {"test": "indexof(['bistata','hughesii','eucalyptophila','pruni','gestamen','abieticola','taxon11'], datum.group) >= 0", "value": "white"}, "value": "#111111"}}},
  {"data": {"name": "leaves"}, "transform": [{"filter": "datum.side === 'R' && !datum.thisStudy"}],
   "mark": {"type": "text", "align": "right", "baseline": "middle", "dy": 1.5, "font": "Liberation Serif", "fontSize": 18},
   "encoding": {"text": {"field": "label"}, "color": {"condition": {"test": "indexof(['bistata','hughesii','eucalyptophila','pruni','gestamen','abieticola','taxon11'], datum.group) >= 0", "value": "white"}, "value": "#111111"}}},
  {"data": {"name": "leaves"}, "transform": [{"filter": "datum.side === 'R' && datum.thisStudy"}],
   "mark": {"type": "text", "align": "right", "baseline": "middle", "dy": 1.5, "font": "Liberation Serif", "fontSize": 18, "fontWeight": "bold"},
   "encoding": {"text": {"field": "label"}, "color": {"condition": {"test": "indexof(['bistata','hughesii','eucalyptophila','pruni','gestamen','abieticola','taxon11'], datum.group) >= 0", "value": "white"}, "value": "#111111"}}},
  {"data": {"name": "groupLabels"}, "transform": [{"filter": "indexof(datum.label, 'Taxon') !== 0"}],
   "mark": {"type": "text", "align": "right", "baseline": "middle", "font": "Liberation Serif", "fontSize": 22, "fontWeight": "bold", "fontStyle": "italic"},
   "encoding": {"text": {"field": "label"}, "color": {"condition": {"test": "indexof(['bistata','hughesii','eucalyptophila','pruni','gestamen','abieticola','taxon11'], datum.group) >= 0", "value": "white"}, "value": "#111111"}}},
  {"data": {"name": "groupLabels"}, "transform": [{"filter": "indexof(datum.label, 'Taxon') === 0"}],
   "mark": {"type": "text", "align": "right", "baseline": "middle", "font": "Liberation Serif", "fontSize": 22, "fontWeight": "bold"},
   "encoding": {"text": {"field": "label"}, "color": {"condition": {"test": "indexof(['bistata','hughesii','eucalyptophila','pruni','gestamen','abieticola','taxon11'], datum.group) >= 0", "value": "white"}, "value": "#111111"}}},
  {"data": {"name": "support"}, "transform": [{"filter": "datum.tree === 'BT'"}],
   "mark": {"type": "text", "align": "center", "baseline": "middle", "font": "Liberation Serif", "fontSize": 13.5, "color": "#111111"},
   "encoding": {"text": {"field": "label"}}},
  {"data": {"name": "support"}, "transform": [{"filter": "datum.tree === 'EF'"}],
   "mark": {"type": "text", "align": "left", "baseline": "middle", "font": "DejaVu Sans", "fontSize": 11, "color": "#111111"},
   "encoding": {"text": {"field": "label"}}},
  {"data": {"name": "titles"},
   "mark": {"type": "text", "align": "center", "baseline": "middle", "font": "Liberation Serif", "fontSize": 31, "fontWeight": "bold", "color": "#111111"},
   "encoding": {"text": {"field": "label"}}},
  {"data": {"name": "scaleLabels"}, "transform": [{"filter": "datum.tree === 'BT'"}],
   "mark": {"type": "text", "align": "center", "baseline": "middle", "font": "Liberation Serif", "fontSize": 17, "color": "#111111"},
   "encoding": {"text": {"field": "label"}}},
  {"data": {"name": "scaleLabels"}, "transform": [{"filter": "datum.tree === 'EF'"}],
   "mark": {"type": "text", "align": "center", "baseline": "middle", "font": "DejaVu Sans", "fontSize": 15, "color": "#111111"},
   "encoding": {"text": {"field": "label"}}},
  {"data": {"name": "captionBold"},
   "mark": {"type": "text", "align": "left", "baseline": "middle", "font": "Liberation Sans Narrow, DejaVu Sans Condensed, sans-serif", "fontSize": 19, "fontWeight": "bold", "color": "#222222"},
   "encoding": {"text": {"field": "label"}}},
  {"data": {"name": "caption"}, "transform": [{"filter": "datum.kind === 'text'"}],
   "mark": {"type": "text", "align": "left", "baseline": "middle", "font": "Liberation Sans Narrow, DejaVu Sans Condensed, sans-serif", "fontSize": 19, "color": "#333333"},
   "encoding": {"text": {"field": "label"}}},
  {"data": {"name": "caption"}, "transform": [{"filter": "datum.kind === 'name'"}],
   "mark": {"type": "text", "align": "left", "baseline": "middle", "font": "Liberation Sans Narrow, DejaVu Sans Condensed, sans-serif", "fontSize": 19, "fontStyle": "italic", "color": "#333333"},
   "encoding": {"text": {"field": "label"}}}
 ]
}
